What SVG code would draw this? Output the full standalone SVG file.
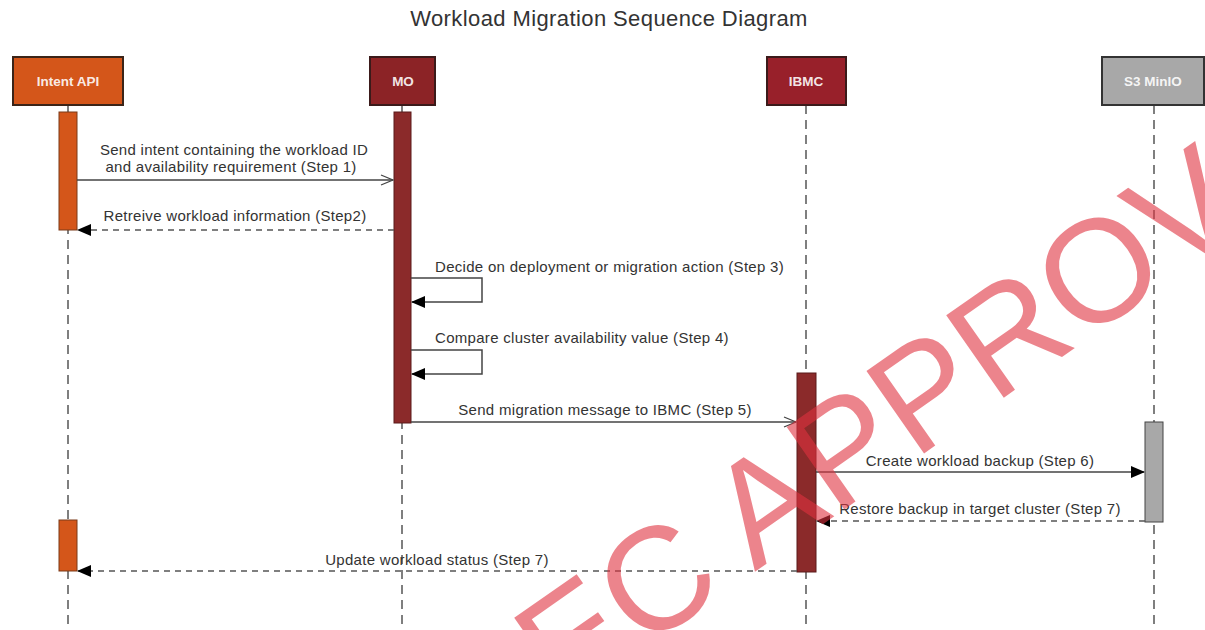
<svg xmlns="http://www.w3.org/2000/svg" width="1205" height="630" viewBox="0 0 1205 630">
<style>
.title{font-family:"Liberation Sans",Arial,sans-serif;font-size:22px;letter-spacing:0.4px;fill:#333;text-anchor:middle}
.hdr{font-family:"Liberation Sans",Arial,sans-serif;font-size:13.5px;font-weight:bold;fill:#fff;fill-opacity:0.9;text-anchor:middle}
.lbl{font-family:"Liberation Sans",Arial,sans-serif;font-size:15px;letter-spacing:0.3px;fill:#333}
.mid{text-anchor:middle}
.life{stroke:#555;stroke-width:1.5;stroke-dasharray:9,6;fill:none}
.msg{stroke:#444;stroke-width:1.5;fill:none}
.ret{stroke:#555;stroke-width:1.5;stroke-dasharray:6,5;fill:none}
.wm{font-family:"Liberation Sans",Arial,sans-serif;font-size:146px;fill:#e0323f;fill-opacity:0.6}
</style>
<defs>
<marker id="open" markerWidth="14" markerHeight="12" refX="13" refY="6" orient="auto" markerUnits="userSpaceOnUse">
<path d="M1,1 L13,6 L1,11" fill="none" stroke="#444" stroke-width="1.3"/>
</marker>
<marker id="fill" markerWidth="14" markerHeight="12" refX="13" refY="6" orient="auto" markerUnits="userSpaceOnUse">
<path d="M0,0 L14,6 L0,12 Z" fill="#000"/>
</marker>
</defs>
<rect width="1205" height="630" fill="#fff"/>
<text class="title" x="609" y="26">Workload Migration Sequence Diagram</text>

<g id="lifelines">
<line class="life" x1="68" y1="105" x2="68" y2="630"/>
<line class="life" x1="402" y1="105" x2="402" y2="630"/>
<line class="life" x1="806" y1="105" x2="806" y2="630"/>
<line class="life" x1="1154" y1="105" x2="1154" y2="630"/>
</g>

<g id="intent-api">
<rect x="13" y="57" width="110" height="48" fill="#d4561a" stroke="#3b2418" stroke-width="2"/>
<text class="hdr" x="68" y="86">Intent API</text>
<rect x="59" y="112" width="18" height="118" fill="#d4561a" stroke="#7a3a18" stroke-width="1"/>
<rect x="59" y="520" width="18" height="51" fill="#d4561a" stroke="#7a3a18" stroke-width="1"/>
</g>
<g id="mo">
<rect x="370" y="57" width="65" height="48" fill="#8c2326" stroke="#3b1a1a" stroke-width="2"/>
<text class="hdr" x="403" y="86">MO</text>
<rect x="394" y="112" width="17" height="311" fill="#8b2a2a" stroke="#5a1a1a" stroke-width="1"/>
</g>
<g id="ibmc">
<rect x="767" y="57" width="79" height="48" fill="#98202a" stroke="#3b1a1a" stroke-width="2"/>
<text class="hdr" x="806" y="86">IBMC</text>
<rect x="797" y="373" width="19" height="199" fill="#8b2a2a" stroke="#5a1a1a" stroke-width="1"/>
</g>
<g id="s3-minio">
<rect x="1102" y="57" width="102" height="48" fill="#a8a8a8" stroke="#333" stroke-width="2"/>
<text class="hdr" x="1153" y="86">S3 MinIO</text>
<rect x="1145" y="422" width="18" height="100" fill="#a8a8a8" stroke="#444" stroke-width="1"/>
</g>

<g id="connectors">
<line class="msg" x1="77" y1="180" x2="393" y2="180" marker-end="url(#open)"/>
<line class="ret" x1="394" y1="230" x2="78" y2="230" marker-end="url(#fill)"/>
<path class="msg" d="M411,278 H482 V302 H412" marker-end="url(#fill)"/>
<path class="msg" d="M411,350 H482 V374 H412" marker-end="url(#fill)"/>
<line class="msg" x1="411" y1="422" x2="796" y2="422" marker-end="url(#open)"/>
<line class="msg" x1="816" y1="472" x2="1144" y2="472" marker-end="url(#fill)"/>
<line class="ret" x1="1145" y1="521" x2="817" y2="521" marker-end="url(#fill)"/>
<line class="ret" x1="797" y1="571" x2="78" y2="571" marker-end="url(#fill)"/>
</g>

<g id="labels">
<text class="lbl mid" x="234" y="155">Send intent containing the workload ID</text>
<text class="lbl mid" x="231" y="172">and availability requirement (Step 1)</text>
<text class="lbl mid" x="235" y="221">Retreive workload information (Step2)</text>
<text class="lbl" x="435" y="272">Decide on deployment or migration action (Step 3)</text>
<text class="lbl" x="435" y="343">Compare cluster availability value (Step 4)</text>
<text class="lbl mid" x="605" y="415">Send migration message to IBMC (Step 5)</text>
<text class="lbl mid" x="980" y="466">Create workload backup (Step 6)</text>
<text class="lbl mid" x="980" y="514">Restore backup in target cluster (Step 7)</text>
<text class="lbl mid" x="437" y="565">Update workload status (Step 7)</text>
</g>

<text class="wm" transform="translate(562,707) rotate(-35)">EC APPROV</text>
</svg>
